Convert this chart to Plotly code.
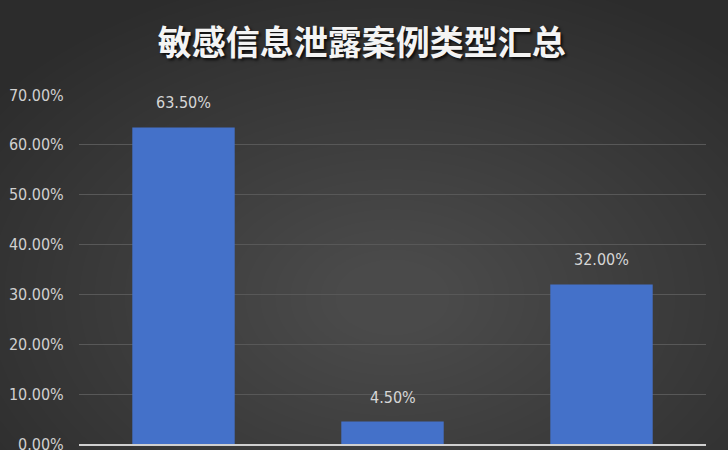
import plotly.graph_objects as go

# data (category names are cut off in the picture)
categories = ["类型一", "类型二", "类型三"]
shares = [63.5, 4.5, 32.0]          # percent
y_ticks = [0, 10, 20, 30, 40, 50, 60, 70]
y_tick_labels = [f"{v:.2f}%" for v in y_ticks]

label_font = "Liberation Sans Narrow, Arial Narrow, DejaVu Sans Condensed, sans-serif"

fig = go.Figure(
    go.Bar(
        x=categories,
        y=shares,
        marker=dict(color="#4471c9", line=dict(width=0)),
        hoverinfo="skip",
        showlegend=False,
    )
)

# value labels sitting above each bar
for c, v in zip(categories, shares):
    fig.add_annotation(
        x=c, y=v, text=f"{v:.2f}%", showarrow=False,
        yanchor="bottom", yshift=13,
        font=dict(family=label_font, size=16, color="#d6d6d6"),
    )

# soft radial glow for the dark background
shapes = []
n = 30
for i in range(n):
    r = 1.05 - i * 0.032
    shapes.append(dict(
        type="circle", xref="paper", yref="paper", layer="below",
        x0=0.5 - 0.75 * r, x1=0.5 + 0.75 * r,
        y0=0.42 - 0.9 * r, y1=0.42 + 0.9 * r,
        fillcolor="rgba(255,255,255,0.0085)", line=dict(width=0),
    ))

fig.update_layout(
    width=728, height=450,
    margin=dict(l=79, r=22, t=95, b=6),
    paper_bgcolor="#2c2c2c",
    plot_bgcolor="rgba(0,0,0,0)",
    bargap=0.51,
    shapes=shapes,
    title=dict(
        text="<b>敏感信息泄露案例类型汇总</b>",
        x=0.497, xanchor="center", y=0.905, yanchor="middle",
        font=dict(family="Noto Sans CJK SC", size=34, color="#f4f4f4",
                  shadow="2px 2px 3px rgba(0,0,0,0.8)"),
    ),
    xaxis=dict(
        showticklabels=False, showgrid=False, zeroline=False,
        showline=True, linecolor="#d0d0d0", linewidth=2,
        automargin=False,
    ),
    yaxis=dict(
        range=[0, 70],
        tickvals=y_ticks, ticktext=y_tick_labels,
        tickfont=dict(family=label_font, size=16, color="#d0d0d0"),
        ticklabeloverflow="allow", automargin=False,
        showgrid=True, gridcolor="#585858", gridwidth=1,
        zeroline=False, showline=False,
        ticks="outside", ticklen=11, tickcolor="rgba(0,0,0,0)",
    ),
)

fig.write_html(
    "out.html",
    config={"displayModeBar": False},
    post_script="document.body.style.margin='0';",
)
